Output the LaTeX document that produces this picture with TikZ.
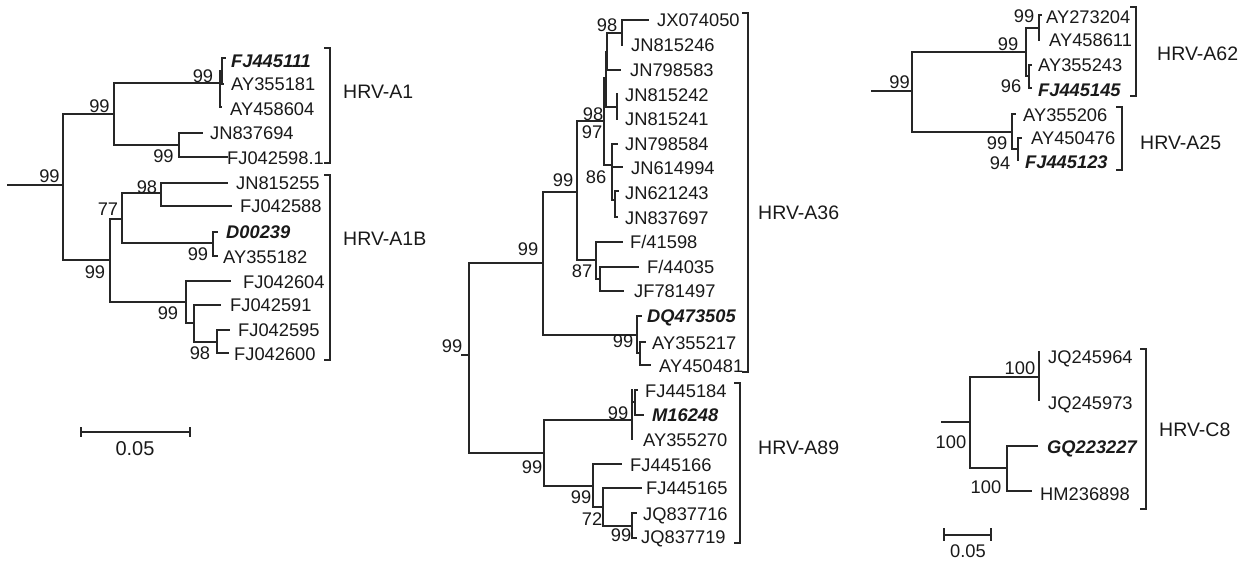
\documentclass[tikz,border=0pt]{standalone}
\usepackage{fontspec}
\setmainfont{Liberation Sans}
\begin{document}
\begin{tikzpicture}[x=1pt,y=-1pt,
  br/.style={draw=black!85, line width=1.1pt, line cap=rect},
  tx/.style={inner sep=0pt, anchor=west, text height=13.2pt, text depth=0pt, font=\fontsize{18.3}{20}\selectfont, text=black!90},
  bi/.style={tx, font=\fontsize{18.3}{20}\selectfont\bfseries\itshape},
  bs/.style={inner sep=0pt, anchor=center, text height=13.2pt, text depth=0pt, font=\fontsize{18.3}{20}\selectfont, text=black!90},
  gl/.style={tx, font=\fontsize{19.5}{21}\selectfont}]
\useasboundingbox (0,0) rectangle (1248,562);

% ================= Tree 1 =================
\coordinate (r1s) at (8,185);
\coordinate (r1) at (63,185);
\coordinate (a1) at (114,114);
\coordinate (c1) at (220,83);
\coordinate (c1a) at (222,71);
\coordinate (tA1) at (225,58);
\coordinate (tA2) at (223,84);
\coordinate (tA3) at (221,107);
\coordinate (c2) at (179,145);
\coordinate (tA4) at (202,133);
\coordinate (tA5) at (227,157);
\coordinate (a1b) at (110,260);
\coordinate (d1) at (122,219);
\coordinate (d3) at (161,193);
\coordinate (tB1) at (227,183);
\coordinate (tB2) at (231,206);
\coordinate (d4) at (213,243);
\coordinate (tB3) at (217,232);
\coordinate (tB4) at (217,256);
\coordinate (d2) at (186,302);
\coordinate (tB5) at (230,281);
\coordinate (d5) at (194,323);
\coordinate (tB6) at (220,305);
\coordinate (d6) at (217,342);
\coordinate (tB7) at (229,330);
\coordinate (tB8) at (228,353);

\draw[br] (r1s) -- (r1);
\draw[br] (r1) |- (a1);  \draw[br] (r1) |- (a1b);
\draw[br] (a1) |- (c1);  \draw[br] (a1) |- (c2);
\draw[br] (c1) |- (c1a); \draw[br] (c1) |- (tA3);
\draw[br] (c1a) |- (tA1); \draw[br] (c1a) |- (tA2);
\draw[br] (c2) |- (tA4); \draw[br] (c2) |- (tA5);
\draw[br] (a1b) |- (d1); \draw[br] (a1b) |- (d2);
\draw[br] (d1) |- (d3);  \draw[br] (d1) |- (d4);
\draw[br] (d3) |- (tB1); \draw[br] (d3) |- (tB2);
\draw[br] (d4) |- (tB3); \draw[br] (d4) |- (tB4);
\draw[br] (d2) |- (tB5); \draw[br] (d2) |- (d5);
\draw[br] (d5) |- (tB6); \draw[br] (d5) |- (d6);
\draw[br] (d6) |- (tB7); \draw[br] (d6) |- (tB8);

\node[bs] (b1r) at (49.5,176) {99};
\node[bs] (b1a) at (99.5,106) {99};
\node[bs] (b1c) at (203,76) {99};
\node[bs] (b1c2) at (163.5,156) {99};
\node[bs] (b1b) at (95,271.5) {99};
\node[bs] (b1d1) at (108,209) {77};
\node[bs] (b1d3) at (147,186.5) {98};
\node[bs] (b1d4) at (198,254) {99};
\node[bs] (b1d2) at (168,312.5) {99};
\node[bs] (b1d6) at (200,352.5) {98};

\node[bi] (LFJ445111) at (231,61) {FJ445111};
\node[tx] (LAY355181) at (231,84) {AY355181};
\node[tx] (LAY458604) at (230,109) {AY458604};
\node[tx] (LJN837694) at (210,133) {JN837694};
\node[tx] (LFJ042598) at (227,158) {FJ042598.1};
\node[tx] (LJN815255) at (236,183) {JN815255};
\node[tx] (LFJ042588) at (240,206) {FJ042588};
\node[bi] (LD00239) at (226,232) {D00239};
\node[tx] (LAY355182) at (223,257) {AY355182};
\node[tx] (LFJ042604) at (243,282) {FJ042604};
\node[tx] (LFJ042591) at (230,305) {FJ042591};
\node[tx] (LFJ042595) at (238,330) {FJ042595};
\node[tx] (LFJ042600) at (234,354) {FJ042600};

\coordinate (kA1t) at (330,48);  \coordinate (kA1b) at (330,163);
\draw[br] ([xshift=-5pt]kA1t) -- (kA1t) -- (kA1b) -- ([xshift=-5pt]kA1b);
\node[gl] (GA1) at (343,92) {HRV-A1};
\coordinate (kA1Bt) at (330,175); \coordinate (kA1Bb) at (330,360);
\draw[br] ([xshift=-5pt]kA1Bt) -- (kA1Bt) -- (kA1Bb) -- ([xshift=-5pt]kA1Bb);
\node[gl] (GA1B) at (343,239) {HRV-A1B};

% scale bar 1
\coordinate (s1l) at (81,432); \coordinate (s1r) at (190,432);
\draw[br] (s1l) -- (s1r);
\draw[br] ([yshift=4pt]s1l) -- ([yshift=-4pt]s1l);
\draw[br] ([yshift=4pt]s1r) -- ([yshift=-4pt]s1r);
\node[bs, font=\fontsize{20}{22}\selectfont] (S1) at (135,449) {0.05};

% ================= Tree 2 =================
\coordinate (r2s) at (462,355);
\coordinate (r2) at (469,355);
\coordinate (b1) at (543,263);
\coordinate (e1) at (577,192);
\coordinate (f1) at (604,121);
\coordinate (g1) at (606,78);
\coordinate (h1) at (607,52);
\coordinate (bp) at (622,33);
\coordinate (tC1) at (648,20);
\coordinate (tC2) at (622,45);
\coordinate (tC3) at (620,70);
\coordinate (h2) at (617,107);
\coordinate (tC4) at (617,94);
\coordinate (tC5) at (617,119);
\coordinate (g2) at (612,165);
\coordinate (tC6) at (617,144);
\coordinate (tC7) at (622,167);
\coordinate (ii) at (615,200);
\coordinate (tC8) at (618,191);
\coordinate (tC9) at (617,217);
\coordinate (f2) at (596,260);
\coordinate (tC10) at (622,242);
\coordinate (jj) at (600,279);
\coordinate (tC11) at (638,267);
\coordinate (tC12) at (623,291);
\coordinate (e2) at (637,335);
\coordinate (tC13) at (641,316);
\coordinate (kk) at (640,353);
\coordinate (tC14) at (645,342);
\coordinate (tC15) at (650,365);
\coordinate (b2) at (544,453);
\coordinate (l1) at (632,420);
\coordinate (mm) at (635,402);
\coordinate (tD1) at (637,390);
\coordinate (tD2) at (643,415);
\coordinate (tD3) at (632,439);
\coordinate (l2) at (593,486);
\coordinate (tD4) at (621,464);
\coordinate (nn) at (603,507);
\coordinate (tD5) at (641,488);
\coordinate (oo) at (632,526);
\coordinate (tD6) at (636,513);
\coordinate (tD7) at (636,538);
\coordinate (l1t) at (632,390);

\draw[br] (r2s) -- (r2);
\draw[br] (r2) |- (b1); \draw[br] (r2) |- (b2);
\draw[br] (b1) |- (e1); \draw[br] (b1) |- (e2);
\draw[br] (e1) |- (f1); \draw[br] (e1) |- (f2);
\draw[br] (f1) |- (g1); \draw[br] (f1) |- (g2);
\draw[br] (g1) |- (h1); \draw[br] (g1) |- (h2);
\draw[br] (h1) |- (bp); \draw[br] (h1) |- (tC3);
\draw[br] (bp) |- (tC1); \draw[br] (bp) |- (tC2);
\draw[br] (h2) |- (tC4); \draw[br] (h2) |- (tC5);
\draw[br] (g2) |- (tC6); \draw[br] (g2) |- (tC7); \draw[br] (g2) |- (ii);
\draw[br] (ii) |- (tC8); \draw[br] (ii) |- (tC9);
\draw[br] (f2) |- (tC10); \draw[br] (f2) |- (jj);
\draw[br] (jj) |- (tC11); \draw[br] (jj) |- (tC12);
\draw[br] (e2) |- (tC13); \draw[br] (e2) |- (kk);
\draw[br] (kk) |- (tC14); \draw[br] (kk) |- (tC15);
\draw[br] (b2) |- (l1); \draw[br] (b2) |- (l2);
\draw[br] (l1) |- (mm); \draw[br] (l1) |- (tD3);
\draw[br] (l1) -- (l1t);
\draw[br] (mm) |- (tD1); \draw[br] (mm) |- (tD2);
\draw[br] (l2) |- (tD4); \draw[br] (l2) |- (nn);
\draw[br] (nn) |- (tD5); \draw[br] (nn) |- (oo);
\draw[br] (oo) |- (tD6); \draw[br] (oo) |- (tD7);

\node[bs] (b2r) at (452,346) {99};
\node[bs] (b2b1) at (528,249) {99};
\node[bs] (b2e1) at (563,180) {99};
\node[bs] (b2f1) at (593,114) {98};
\node[bs] (b2f1b) at (592,132) {97};
\node[bs] (b2bp) at (607,25) {98};
\node[bs] (b2g2) at (596,176.5) {86};
\node[bs] (b2f2) at (582,271) {87};
\node[bs] (b2e2) at (623,341) {99};
\node[bs] (b2b2) at (532,466.5) {99};
\node[bs] (b2l1) at (618,412.5) {99};
\node[bs] (b2l2) at (581,496.5) {99};
\node[bs] (b2nn) at (592,518.5) {72};
\node[bs] (b2oo) at (621,535) {99};

\node[tx] (LJX074050) at (657,20) {JX074050};
\node[tx] (LJN815246) at (631,45) {JN815246};
\node[tx] (LJN798583) at (630,70) {JN798583};
\node[tx] (LJN815242) at (625,95) {JN815242};
\node[tx] (LJN815241) at (625,119) {JN815241};
\node[tx] (LJN798584) at (625,144) {JN798584};
\node[tx] (LJN614994) at (631,168) {JN614994};
\node[tx] (LJN621243) at (625,193) {JN621243};
\node[tx] (LJN837697) at (625,218) {JN837697};
\node[tx] (LF41598) at (630,242) {F/41598};
\node[tx] (LF44035) at (647,267) {F/44035};
\node[tx] (LJF781497) at (634,291) {JF781497};
\node[bi] (LDQ473505) at (647,316) {DQ473505};
\node[tx] (LAY355217) at (652,343) {AY355217};
\node[tx] (LAY450481) at (659,366) {AY450481};
\node[tx] (LFJ445184) at (645,391) {FJ445184};
\node[bi] (LM16248) at (652,415) {M16248};
\node[tx] (LAY355270) at (643,440) {AY355270};
\node[tx] (LFJ445166) at (630,465) {FJ445166};
\node[tx] (LFJ445165) at (646,488) {FJ445165};
\node[tx] (LJQ837716) at (643,514) {JQ837716};
\node[tx] (LJQ837719) at (641,537) {JQ837719};

\coordinate (kA36t) at (748,13); \coordinate (kA36b) at (748,372);
\draw[br] ([xshift=-5pt]kA36t) -- (kA36t) -- (kA36b) -- ([xshift=-5pt]kA36b);
\node[gl] (GA36) at (758,213) {HRV-A36};
\coordinate (kA89t) at (740,383); \coordinate (kA89b) at (740,543);
\draw[br] ([xshift=-5pt]kA89t) -- (kA89t) -- (kA89b) -- ([xshift=-5pt]kA89b);
\node[gl] (GA89) at (758,448) {HRV-A89};

% ================= Tree 3 =================
\coordinate (r3s) at (872,91);
\coordinate (r3) at (912,91);
\coordinate (p1) at (1026,52);
\coordinate (q1) at (1039,28);
\coordinate (tE1) at (1041,15);
\coordinate (tE2) at (1039,40);
\coordinate (q2) at (1029,76);
\coordinate (tE3) at (1031,65);
\coordinate (tE4) at (1031,88);
\coordinate (p2) at (1012,132);
\coordinate (tE5) at (1015,114);
\coordinate (rr) at (1018,149);
\coordinate (tE6) at (1021,138);
\coordinate (tE7) at (1018,160);

\draw[br] (r3s) -- (r3);
\draw[br] (r3) |- (p1); \draw[br] (r3) |- (p2);
\draw[br] (p1) |- (q1); \draw[br] (p1) |- (q2);
\draw[br] (q1) |- (tE1); \draw[br] (q1) |- (tE2);
\draw[br] (q2) |- (tE3); \draw[br] (q2) |- (tE4);
\draw[br] (p2) |- (tE5); \draw[br] (p2) |- (rr);
\draw[br] (rr) |- (tE6); \draw[br] (rr) |- (tE7);

\node[bs] (b3r) at (899.5,82) {99};
\node[bs] (b3p1) at (1008,44) {99};
\node[bs] (b3q1) at (1024,16) {99};
\node[bs] (b3q2) at (1011,86) {96};
\node[bs] (b3p2) at (997,142.5) {99};
\node[bs] (b3rr) at (1000,162.5) {94};

\node[tx] (LAY273204) at (1046,17) {AY273204};
\node[tx] (LAY458611) at (1049,40) {AY458611};
\node[tx] (LAY355243) at (1038,65) {AY355243};
\node[bi] (LFJ445145) at (1038,90) {FJ445145};
\node[tx] (LAY355206) at (1023,115) {AY355206};
\node[tx] (LAY450476) at (1031,138) {AY450476};
\node[bi] (LFJ445123) at (1025,162) {FJ445123};

\coordinate (kA62t) at (1136,7); \coordinate (kA62b) at (1136,96);
\draw[br] ([xshift=-5pt]kA62t) -- (kA62t) -- (kA62b) -- ([xshift=-5pt]kA62b);
\node[gl] (GA62) at (1157,54) {HRV-A62};
\coordinate (kA25t) at (1122,107); \coordinate (kA25b) at (1122,170);
\draw[br] ([xshift=-5pt]kA25t) -- (kA25t) -- (kA25b) -- ([xshift=-5pt]kA25b);
\node[gl] (GA25) at (1140,143) {HRV-A25};

% ================= Tree 4 =================
\coordinate (r4s) at (942,422);
\coordinate (r4) at (970,422);
\coordinate (s1) at (1039,377);
\coordinate (tF1) at (1039,352);
\coordinate (tF2) at (1039,400);
\coordinate (s2) at (1007,468);
\coordinate (tF3) at (1037,446);
\coordinate (tF4) at (1031,491);

\draw[br] (r4s) -- (r4);
\draw[br] (r4) |- (s1); \draw[br] (r4) |- (s2);
\draw[br] (s1) |- (tF1); \draw[br] (s1) |- (tF2);
\draw[br] (s2) |- (tF3); \draw[br] (s2) |- (tF4);

\node[bs] (b4r) at (951,441.5) {100};
\node[bs] (b4s1) at (1020,367.5) {100};
\node[bs] (b4s2) at (986,486.5) {100};

\node[tx] (LJQ245964) at (1048,357) {JQ245964};
\node[tx] (LJQ245973) at (1048,403) {JQ245973};
\node[bi] (LGQ223227) at (1047,447) {GQ223227};
\node[tx] (LHM236898) at (1040,494) {HM236898};

\coordinate (kC8t) at (1146,349); \coordinate (kC8b) at (1146,509);
\draw[br] ([xshift=-5pt]kC8t) -- (kC8t) -- (kC8b) -- ([xshift=-5pt]kC8b);
\node[gl] (GC8) at (1159,430) {HRV-C8};

% scale bar 2
\coordinate (s2l) at (944,535); \coordinate (s2r) at (991,535);
\draw[br] (s2l) -- (s2r);
\draw[br] ([yshift=6pt]s2l) -- ([yshift=-5pt]s2l);
\draw[br] ([yshift=6pt]s2r) -- ([yshift=-5pt]s2r);
\node[bs] (S2) at (968,551) {0.05};
\end{tikzpicture}
\end{document}
